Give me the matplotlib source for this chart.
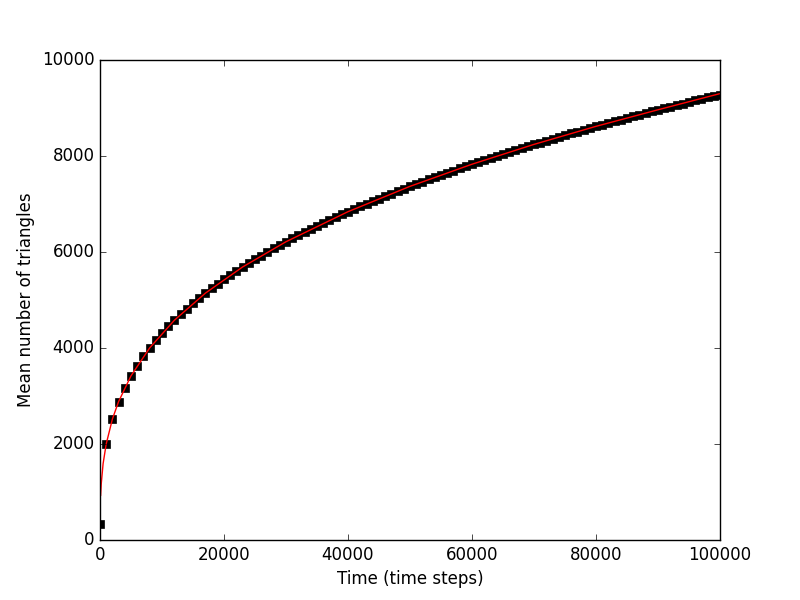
import numpy as np
import matplotlib
matplotlib.use("Agg")
import matplotlib.pyplot as plt

# measured mean triangle counts, one sample every 1000 time steps
time_steps = np.arange(0, 100001, 1000)
mean_triangles = [
    330, 2000, 2520, 2884, 3175, 3420, 3634, 3826, 4000, 4160,
    4309, 4448, 4579, 4703, 4820, 4932, 5040, 5143, 5242, 5337,
    5429, 5518, 5604, 5688, 5769, 5848, 5925, 6000, 6073, 6145,
    6214, 6283, 6350, 6415, 6480, 6542, 6604, 6665, 6724, 6783,
    6840, 6896, 6952, 7007, 7061, 7114, 7166, 7217, 7268, 7318,
    7368, 7416, 7465, 7512, 7560, 7606, 7652, 7697, 7742, 7786,
    7829, 7872, 7915, 7957, 8000, 8041, 8082, 8123, 8163, 8203,
    8242, 8281, 8320, 8358, 8396, 8434, 8471, 8508, 8545, 8582,
    8618, 8653, 8689, 8724, 8759, 8794, 8828, 8862, 8896, 8929,
    8963, 8996, 9028, 9061, 9093, 9125, 9157, 9189, 9220, 9252,
    9270,
]

# fitted curve (red line)
fit_t = [100, 200, 500, 1000, 2000, 3000, 5000, 8000, 12000, 17000, 23000,
         30000, 40000, 50000, 60000, 70000, 80000, 90000, 100000]
fit_y = [930, 1170, 1590, 2000, 2520, 2884, 3420, 4000, 4579, 5143, 5688,
         6214, 6840, 7368, 7829, 8242, 8618, 8963, 9300]

plt.style.use("classic")
fig, ax = plt.subplots(figsize=(8, 6), dpi=100)
fig.patch.set_facecolor("white")

ax.plot(time_steps, mean_triangles, "s", color="black", markersize=6,
        markeredgecolor="black")
ax.plot(fit_t, fit_y, "-", color="red", linewidth=1)

ax.set_xlim(0, 100000)
ax.set_ylim(0, 10000)
ax.set_xticks([0, 20000, 40000, 60000, 80000, 100000])
ax.set_yticks([0, 2000, 4000, 6000, 8000, 10000])
ax.set_xlabel("Time (time steps)")
ax.set_ylabel("Mean number of triangles")

fig.savefig("out.png", facecolor="white")
